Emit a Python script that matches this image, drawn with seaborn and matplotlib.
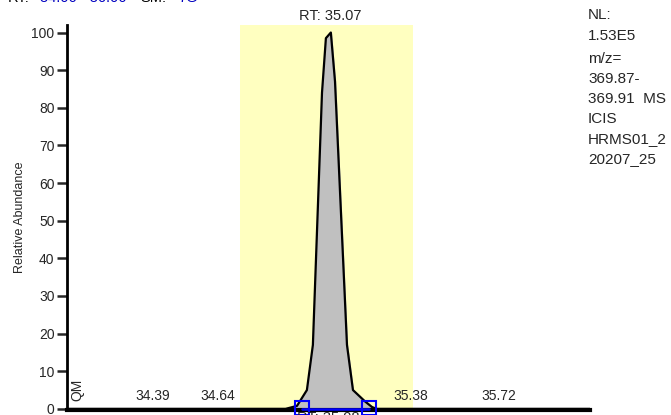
import numpy as np
import pandas as pd
import matplotlib
matplotlib.use("Agg")
import matplotlib.pyplot as plt
import seaborn as sns

# chromatogram trace (retention time in min, relative abundance %)
rt = [34.06, 34.50, 34.90, 34.944, 34.982, 35.005, 35.040, 35.055, 35.074, 35.090,
      35.136, 35.159, 35.205, 35.232, 35.25, 35.60, 36.07]
abundance = [0.0, 0.0, 0.0, 0.8, 5.0, 17.0, 84.0, 98.5, 100.0, 87.0,
             17.0, 5.0, 2.0, 0.5, 0.0, 0.0, 0.0]

peak_labels = ["34.39", "34.64", "35.38", "35.72"]
peak_label_rt = [34.39, 34.64, 35.38, 35.72]
apex_rt = 35.07
apex_label = "RT: 35.07"
window = (34.725, 35.39)
integration = (34.963, 35.221)

df = pd.DataFrame({"rt": rt, "abundance": abundance})

sns.set_style("white")
plt.rcParams['font.family'] = ['Liberation Sans', 'DejaVu Sans']

fig = plt.figure(figsize=(6.71, 4.15), dpi=100)
ax = fig.add_axes([67 / 671, 5 / 415, 523 / 671, 385 / 415])

ax.set_xlim(34.06, 36.07)
ax.set_ylim(-0.3, 102.0)

# yellow highlight window
ax.axvspan(window[0], window[1], ymin=0.006, ymax=1.0, color="#ffffc0", lw=0, zorder=0)

ax.fill_between(df.rt, df.abundance, color="#c0c0c0", zorder=1)
sns.lineplot(data=df, x="rt", y="abundance", color="black", lw=1.6, ax=ax,
             sort=False, zorder=2)

# integration markers
ax.plot(integration, [0.0, 0.0], color="#0000ff", lw=1.8, zorder=3, clip_on=False)
for xi in integration:
    ax.plot([xi], [0.3], marker="s", ms=10, mfc="none", mec="#0000ff", mew=1.5,
            zorder=3, clip_on=False)

for lab, x in zip(peak_labels, peak_label_rt):
    ax.text(x, 3.3, lab, ha="center", va="center", fontsize=10)
ax.text(apex_rt, 104.5, apex_label, ha="center", va="center", fontsize=10.5, clip_on=False)
ax.text(34.098, 5.0, "QM", rotation=90, ha="center", va="center", fontsize=10)
ax.text(integration[0] - 0.02, -0.6, "RT: 35.08", ha="left", va="top", fontsize=10.5,
        clip_on=False)

ax.set_xlabel("")
ax.set_ylabel("Relative Abundance", fontsize=9, labelpad=4)
ax.set_yticks(range(0, 101, 10))
ax.set_xticks([])
ax.tick_params(axis="y", direction="out", length=7, width=1.8, labelsize=10, pad=2,
               left=True)
for s in ["top", "right"]:
    ax.spines[s].set_visible(False)
ax.spines["left"].set_linewidth(2)
ax.spines["bottom"].set_linewidth(3)
ax.spines["left"].set_color("black")
ax.spines["bottom"].set_color("black")

# header text (clipped at the top edge like the original)
hy = 1 - 1.5 / 415
fig.text(8 / 671, hy, "RT:", color="black", fontsize=10.5, va="baseline")
fig.text(40 / 671, hy, "34.06 - 36.06", color="#0000c0", fontsize=10.5, va="baseline")
fig.text(140 / 671, hy, "SM:", color="black", fontsize=10.5, va="baseline")
fig.text(178 / 671, hy, "7G", color="#0000c0", fontsize=10.5, va="baseline")

# right-side info block
info = ["NL:", "1.53E5"]
info2 = ["m/z=", "369.87-", "369.91  MS", "ICIS", "HRMS01_2", "20207_25"]
for i, s in enumerate(info):
    fig.text(588 / 671, 1 - (15 + 21 * i) / 415, s, fontsize=11, va="center")
for i, s in enumerate(info2):
    fig.text(588 / 671, 1 - (59 + 20 * i) / 415, s, fontsize=11, va="center")
fig.text(588 / 671, -0.014, "NL:", color="#b00000", fontsize=11, va="center")

fig.savefig("out.png", dpi=100)
